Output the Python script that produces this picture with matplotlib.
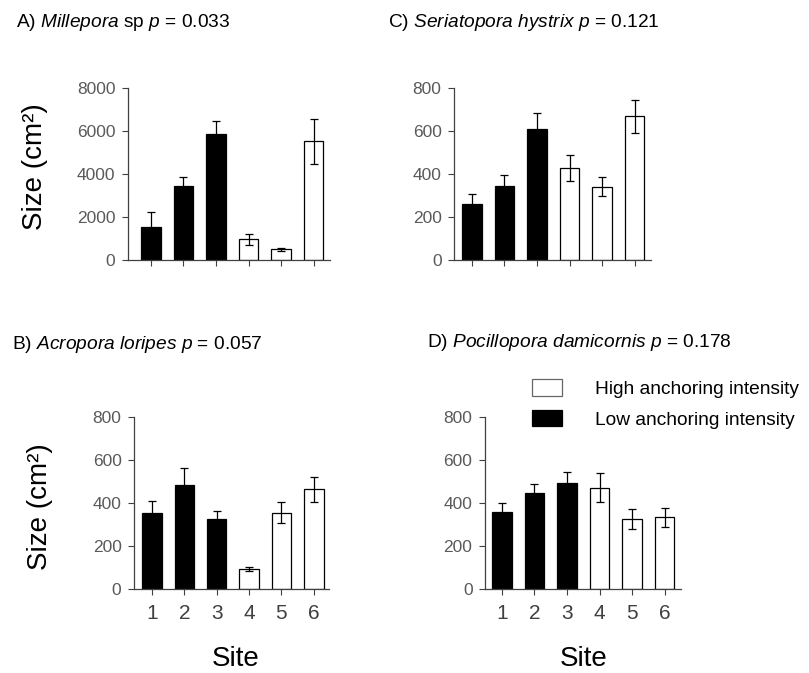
import matplotlib
matplotlib.use("Agg")
import matplotlib.pyplot as plt
from matplotlib.patches import Patch

plt.rcParams['font.family'] = ['Liberation Sans', 'DejaVu Sans']
plt.rcParams['mathtext.fontset'] = 'custom'
plt.rcParams['mathtext.rm'] = 'Liberation Sans'
plt.rcParams['mathtext.it'] = 'Liberation Sans:italic'

# Sites and anchoring groups
sites = [1, 2, 3, 4, 5, 6]
site_labels = ["1", "2", "3", "4", "5", "6"]
is_high = [False, False, False, True, True, True]

# Mean colony size (cm^2) and standard error per site
millepora_mean = [1550, 3450, 5850, 960, 500, 5530]
millepora_se = [700, 400, 600, 250, 80, 1050]

seriatopora_mean = [260, 346, 609, 427, 340, 668]
seriatopora_se = [45, 50, 77, 61, 44, 78]

acropora_mean = [353, 485, 327, 93, 355, 464]
acropora_se = [58, 78, 37, 8, 50, 58]

pocillopora_mean = [356, 445, 495, 472, 324, 333]
pocillopora_se = [45, 45, 50, 68, 46, 46]

titles = {
    "A": r"A) $\mathit{Millepora}$ sp $\mathit{p}$ = 0.033",
    "C": r"C) $\mathit{Seriatopora\ hystrix}$ $\mathit{p}$ = 0.121",
    "B": r"B) $\mathit{Acropora\ loripes}$ $\mathit{p}$ = 0.057",
    "D": r"D) $\mathit{Pocillopora\ damicornis}$ $\mathit{p}$ = 0.178",
}

W, H = 809, 673
fig = plt.figure(figsize=(W / 100, H / 100), dpi=100)


def box(x0, x1, ytop, ybot):
    return [x0 / W, 1 - ybot / H, (x1 - x0) / W, (ybot - ytop) / H]


spine_col = "#404040"
tick_col = "#5a5a5a"


def panel(rect, means, ses, ymax, step, xlim, show_x):
    ax = fig.add_axes(rect)
    colors = ["white" if h else "black" for h in is_high]
    ax.bar(sites, means, width=0.6, color=colors, edgecolor="black",
           linewidth=0.9, zorder=2)
    ax.errorbar(sites, means, yerr=ses, fmt="none", ecolor="black",
                elinewidth=0.9, capsize=3, capthick=0.9, zorder=3)
    ax.set_xlim(*xlim)
    ax.set_ylim(0, ymax)
    ax.set_yticks(range(0, ymax + 1, step))
    ax.set_xticks(sites)
    if show_x:
        ax.set_xticklabels(site_labels, fontsize=15, color="black")
    else:
        ax.set_xticklabels([])
    for s in ("top", "right"):
        ax.spines[s].set_visible(False)
    for s in ("left", "bottom"):
        ax.spines[s].set_color(spine_col)
        ax.spines[s].set_linewidth(0.9)
    ax.tick_params(axis="y", direction="out", length=4, width=0.8,
                   colors=spine_col, labelcolor=tick_col, labelsize=12.5, pad=5)
    ax.tick_params(axis="x", direction="out", length=4, width=0.8,
                   colors=spine_col, pad=7)
    return ax


axA = panel(box(128, 330, 88, 260), millepora_mean, millepora_se,
            8000, 2000, (0.3, 6.5), False)
axC = panel(box(454, 651, 88, 260), seriatopora_mean, seriatopora_se,
            800, 200, (0.45, 6.5), False)
axB = panel(box(134, 329, 417, 589), acropora_mean, acropora_se,
            800, 200, (0.44, 6.47), True)
axD = panel(box(485, 681, 417, 589), pocillopora_mean, pocillopora_se,
            800, 200, (0.48, 6.5), True)

# Panel titles
tkw = dict(fontsize=13.8, va="baseline", ha="left")
fig.text(16 / W, 1 - 27 / H, titles["A"], **tkw)
fig.text(388 / W, 1 - 27 / H, titles["C"], **tkw)
fig.text(12 / W, 1 - 349 / H, titles["B"], **tkw)
fig.text(427 / W, 1 - 347 / H, titles["D"], **tkw)

# Axis labels
fig.text(35 / W, 1 - 167 / H, "Size (cm²)", fontsize=20, rotation=90,
         va="center", ha="center")
fig.text(40 / W, 1 - 507 / H, "Size (cm²)", fontsize=20, rotation=90,
         va="center", ha="center")
fig.text(236 / W, 1 - 672 / H, "Site", fontsize=20, va="bottom", ha="center")
fig.text(584 / W, 1 - 672 / H, "Site", fontsize=20, va="bottom", ha="center")

# Legend
handles = [Patch(facecolor="white", edgecolor="#666666", linewidth=0.9),
           Patch(facecolor="black", edgecolor="black", linewidth=0.9)]
labels = ["High anchoring intensity", "Low anchoring intensity"]
fig.legend(handles, labels, loc="upper left",
           bbox_to_anchor=(532 / W, 1 - 379 / H), frameon=False,
           fontsize=13.8, handlelength=1.55, handleheight=0.95,
           handletextpad=1.75, labelspacing=0.62, borderpad=0,
           borderaxespad=0)

fig.savefig("out.png", dpi=100)
